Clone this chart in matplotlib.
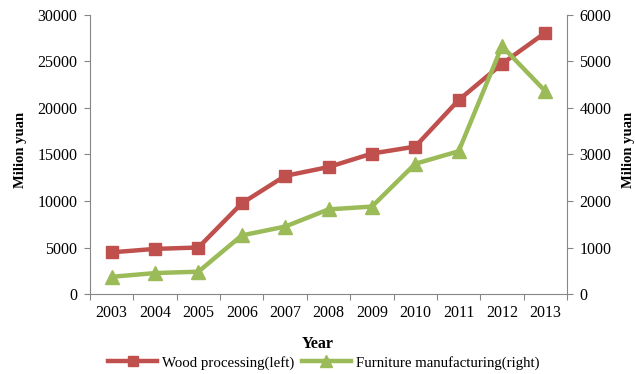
import matplotlib.pyplot as plt
import numpy as np

years = ["2003", "2004", "2005", "2006", "2007", "2008",
         "2009", "2010", "2011", "2012", "2013"]
wood = [4480, 4850, 5000, 9750, 12700, 13650, 15100, 15850, 20850, 24750, 28100]
furniture = [370, 450, 480, 1260, 1450, 1820, 1880, 2800, 3070, 5330, 4360]

RED = "#C0504D"
GREEN = "#9BBB59"
GRAY = "#868686"

plt.rcParams["font.family"] = "Liberation Serif"
plt.rcParams["font.size"] = 11.5

fig = plt.figure(figsize=(6.35, 3.74), dpi=100)
ax = fig.add_axes([0.1417, 0.2139, 0.7513, 0.746])
ax2 = ax.twinx()

x = np.arange(len(years))
l1, = ax.plot(x, wood, color=RED, lw=3.2, marker="s", ms=9,
              label="Wood processing(left)")
l2, = ax2.plot(x, furniture, color=GREEN, lw=3.2, marker="^", ms=10,
               label="Furniture manufacturing(right)")

ax.set_xlim(-0.5, len(years) - 0.5)
ax.set_ylim(0, 30000)
ax2.set_ylim(0, 6000)
ax.set_yticks(np.arange(0, 30001, 5000))
ax2.set_yticks(np.arange(0, 6001, 1000))

# category labels sit between the tick marks
ax.set_xticks(np.arange(-0.5, len(years), 1))
ax.set_xticklabels([])
ax.set_xticks(x, minor=True)
ax.set_xticklabels(years, minor=True)
ax.tick_params(axis="x", which="minor", length=0, pad=8)
ax.tick_params(axis="x", which="major", length=4, color=GRAY, direction="out")
ax.tick_params(axis="y", length=4, color=GRAY, pad=5)
ax2.tick_params(axis="y", length=4, color=GRAY, pad=5)

for a in (ax, ax2):
    a.spines["top"].set_visible(False)
    for s in ("left", "right", "bottom"):
        a.spines[s].set_color(GRAY)
ax.spines["right"].set_visible(False)
ax2.spines["left"].set_visible(False)
ax2.spines["bottom"].set_visible(False)

ax.set_ylabel("Milion yuan", fontweight="bold", fontsize=10.5)
ax.yaxis.set_label_coords(-0.132, 0.516)
ax2.set_ylabel("Milion yuan", fontweight="bold", fontsize=10.5)
ax2.yaxis.set_label_coords(1.115, 0.516)
ax.set_xlabel("Year", fontweight="bold")
ax.xaxis.set_label_coords(0.478, -0.151)

fig.legend(handles=[l1, l2], loc="center", ncol=2, frameon=False,
           bbox_to_anchor=(0.51, 0.03), handlelength=3.3, columnspacing=0.5,
           handletextpad=0.35, markerscale=0.8, fontsize=10.7)

fig.savefig("out.png", dpi=100)
